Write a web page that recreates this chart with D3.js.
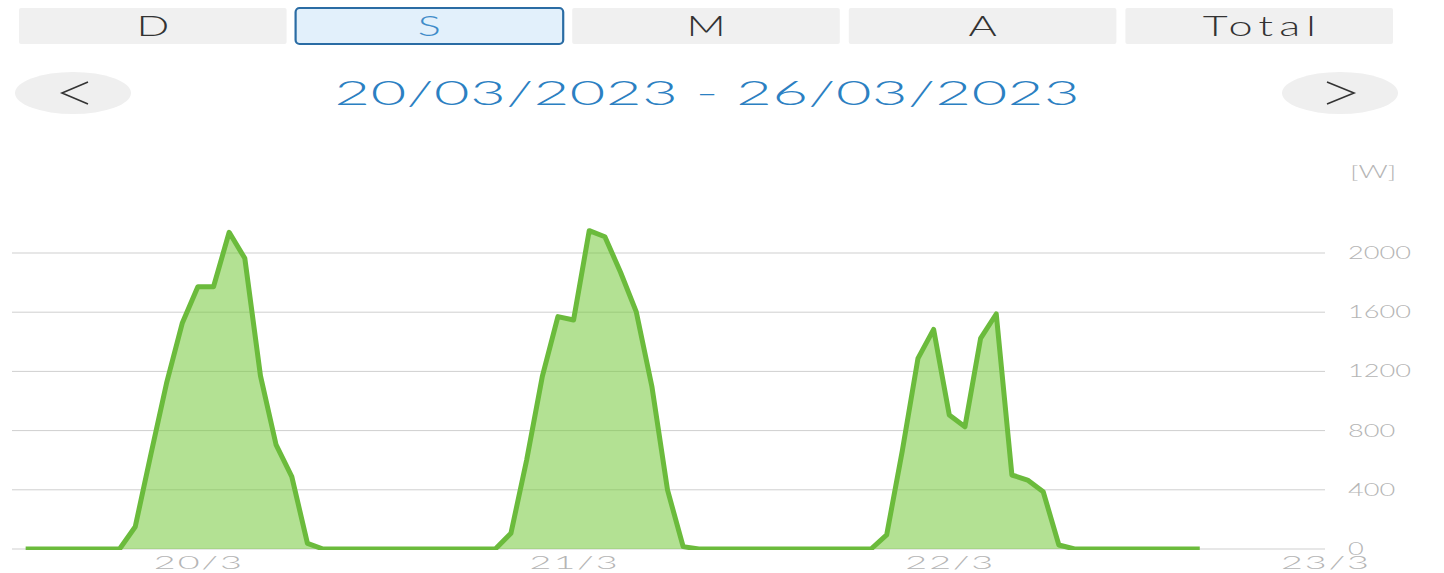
<!DOCTYPE html>
<html>
<head>
<meta charset="utf-8">
<script src="https://cdn.jsdelivr.net/npm/d3@7"></script>
<style>
    body { margin: 0; background: #fff; }
    svg text { font-family: "Century Gothic", "Lato", "Noto Sans", sans-serif; font-weight: 300; }
</style>
</head>
<body>
<svg width="1444" height="573"></svg>
<script>
// 顶部切换按钮与日期区间
var tabs = ["D", "S", "M", "A", "Total"];
var activeTab = "S";
var rangeLabel = "20/03/2023 - 26/03/2023";

// 功率数据：从 20/03 01:00 开始，每小时一个点 (W)
var firstHour = 1;
var watts = [
    0, 0, 0, 0, 0, 0,
    0, 150, 640, 1120, 1525, 1772, 1772, 2140, 1964, 1170, 703, 489, 38, 0,
    0, 0, 0, 0, 0, 0, 0, 0, 0, 0,
    0, 106, 600, 1164, 1570, 1547, 2151, 2110, 1870, 1604, 1100, 399, 16, 0,
    0, 0, 0, 0, 0, 0, 0, 0, 0, 0,
    0, 95, 664, 1288, 1484, 905, 826, 1423, 1588, 500, 466, 387, 27, 0,
    0, 0, 0, 0, 0, 0, 0, 0
];
var yTicks = [0, 400, 800, 1200, 1600, 2000];
var dayTicks = ["2023-03-20T12:00", "2023-03-21T12:00", "2023-03-22T12:00", "2023-03-23T12:00"];
var unitLabel = "[W]";

var svg = d3.select("svg");
var sx = 1.6;   // 原图文字横向拉伸
var start = new Date(2023, 2, 20, 0, 0);
var parse = d3.timeParse("%Y-%m-%dT%H:%M");

var data = watts.map(function (v, i) {
    return { t: d3.timeHour.offset(start, firstHour + i), v: v };
});

// ---------- 顶部按钮 ----------
var band = d3.scaleBand().domain(tabs).range([19, 1393]).paddingInner(0.0325);

var tab = svg.selectAll("g.tab").data(tabs).enter().append("g").attr("class", "tab");
tab.append("rect")
    .attr("x", function (d) { return band(d); })
    .attr("y", 8)
    .attr("width", band.bandwidth())
    .attr("height", 36)
    .attr("rx", function (d) { return d == activeTab ? 4 : 2; })
    .attr("fill", function (d) { return d == activeTab ? "#e2f0fb" : "#f0f0f0"; })
    .attr("stroke", function (d) { return d == activeTab ? "#2a6ca4" : "none"; })
    .attr("stroke-width", 2.2);
tab.append("text")
    .attr("transform", function (d) {
        return "translate(" + (band(d) + band.bandwidth() / 2) + ",36) scale(" + sx + ",1)";
    })
    .attr("text-anchor", "middle")
    .attr("font-size", 27)
    .attr("fill", function (d) { return d == activeTab ? "#3f8cc9" : "#333"; })
    .each(function (d) {
        if (d == "Total") d3.select(this).attr("textLength", 113 / sx).attr("lengthAdjust", "spacing");
    })
    .text(function (d) { return d; });

// ---------- 日期行 ----------
[[73, "M88,82 L62,93 L88,104"], [1340, "M1327,82 L1354,93 L1327,104"]].forEach(function (b) {
    svg.append("ellipse").attr("cx", b[0]).attr("cy", 93).attr("rx", 58).attr("ry", 21).attr("fill", "#efefef");
    svg.append("path").attr("d", b[1]).attr("fill", "none").attr("stroke", "#333").attr("stroke-width", 1.6);
});
svg.append("text")
    .attr("transform", "translate(707,105) scale(1.8,1)")
    .attr("text-anchor", "middle")
    .attr("font-size", 34)
    .attr("fill", "#2b80c2")
    .attr("textLength", 745 / 1.8)
    .attr("lengthAdjust", "spacing")
    .text(rangeLabel);

// ---------- 图表 ----------
var x = d3.scaleTime().domain([start, new Date(2023, 2, 23, 12, 0)]).range([10, 1325]);
var y = d3.scaleLinear().domain([0, 2000]).range([549, 253]);

// 网格线
svg.append("g").selectAll("line").data(yTicks).enter().append("line")
    .attr("x1", 12).attr("x2", 1325)
    .attr("y1", function (d) { return y(d); })
    .attr("y2", function (d) { return y(d); })
    .attr("stroke", "#cfcfcf")
    .attr("stroke-width", 1);

// 纵轴刻度
svg.append("g").selectAll("text").data(yTicks).enter().append("text")
    .attr("transform", function (d) { return "translate(1348," + (y(d) + 6) + ") scale(" + sx + ",1)"; })
    .attr("font-size", 17)
    .attr("fill", "#b5b5b5")
    .text(function (d) { return d; });

svg.append("text")
    .attr("transform", "translate(1350,178) scale(" + sx + ",1)")
    .attr("font-size", 18)
    .attr("fill", "#b5b5b5")
    .text(unitLabel);

// 面积 + 折线，裁掉零线下方一半
svg.append("clipPath").attr("id", "plot")
    .append("rect").attr("x", 0).attr("y", 150).attr("width", 1330).attr("height", 400);

var area = d3.area()
    .x(function (d) { return x(d.t); })
    .y0(y(0))
    .y1(function (d) { return y(d.v); });
var line = d3.line()
    .x(function (d) { return x(d.t); })
    .y(function (d) { return y(d.v); });

var plot = svg.append("g").attr("clip-path", "url(#plot)");
plot.append("path").datum(data)
    .attr("d", area)
    .attr("fill", "#74c93a")
    .attr("fill-opacity", 0.55);
plot.append("path").datum(data)
    .attr("d", line)
    .attr("fill", "none")
    .attr("stroke", "#6bbb3c")
    .attr("stroke-width", 5)
    .attr("stroke-linejoin", "round");

// 横轴日期
var fmt = d3.timeFormat("%-d/%-m");
svg.append("g").selectAll("text").data(dayTicks).enter().append("text")
    .attr("transform", function (d) { return "translate(" + x(parse(d)) + ",569) scale(2.1,1)"; })
    .attr("text-anchor", "middle")
    .attr("font-size", 18)
    .attr("fill", "#b5b5b5")
    .attr("textLength", 88 / 2.1)
    .attr("lengthAdjust", "spacing")
    .text(function (d) { return fmt(parse(d)); });
</script>
</body>
</html>
